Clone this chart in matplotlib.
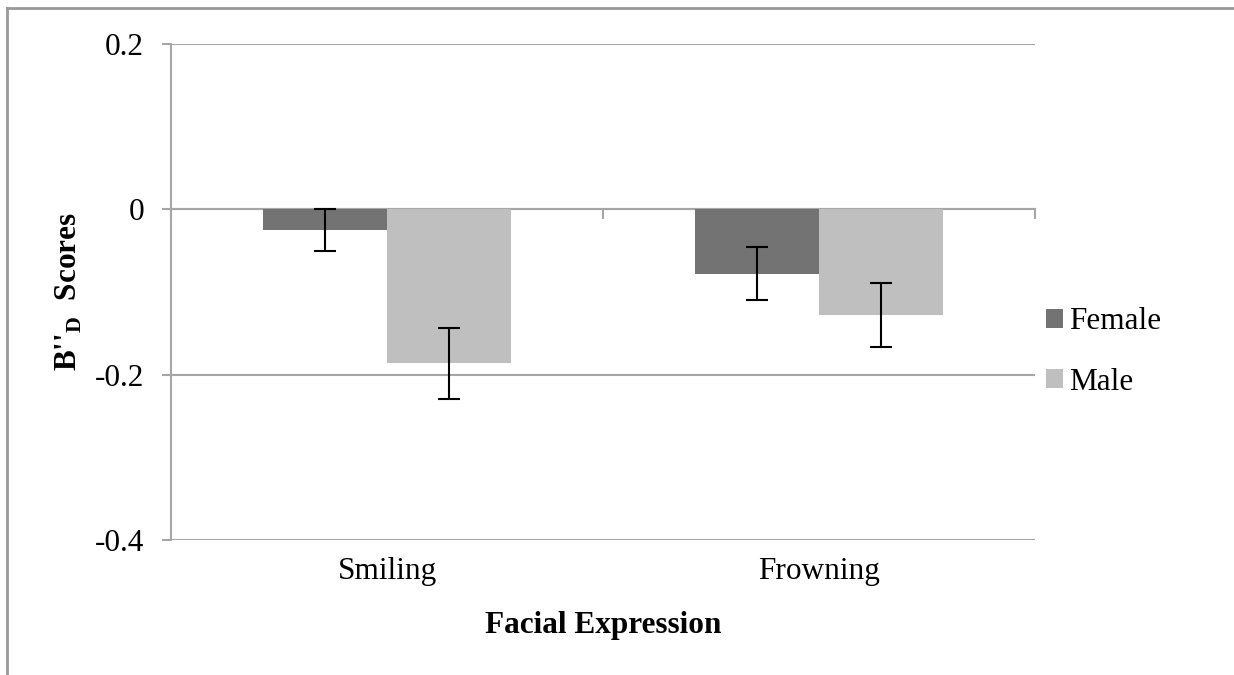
import matplotlib
matplotlib.use('Agg')
import matplotlib.pyplot as plt
from matplotlib.lines import Line2D
import numpy as np

# values
categories = ['Smiling', 'Frowning']
groups = ['Female', 'Male']
female_mean = [-0.025, -0.078]
female_err = [0.026, 0.032]
male_mean = [-0.186, -0.128]
male_err = [0.043, 0.039]
yticks = [-0.4, -0.2, 0, 0.2]
ytick_labels = ['-0.4', '-0.2', '0', '0.2']

plt.rcParams['font.family'] = ['Liberation Serif', 'DejaVu Serif']
plt.rcParams['mathtext.fontset'] = 'custom'
plt.rcParams['mathtext.rm'] = 'Liberation Serif'
plt.rcParams['mathtext.bf'] = 'Liberation Serif:bold'

grid_col = '#a6a6a6'
female_col = '#737373'
male_col = '#bfbfbf'
fs = 22.5

fig = plt.figure(figsize=(12.34, 6.75), dpi=100)
ax = fig.add_axes([171/1234, 1 - 540/675, (1035 - 171)/1234, (540 - 44)/675])

x = np.arange(len(categories))
w = 0.288
err_kw = dict(ecolor='black', elinewidth=1.5, capsize=8, capthick=1.5)
ax.bar(x - w/2, female_mean, w, yerr=female_err, color=female_col,
       label=groups[0], zorder=3, error_kw=err_kw)
ax.bar(x + w/2, male_mean, w, yerr=male_err, color=male_col,
       label=groups[1], zorder=3, error_kw=err_kw)

ax.set_xlim(-0.5, len(categories) - 0.5)
ax.set_ylim(-0.4, 0.2)
ax.set_yticks(yticks)
ax.set_yticklabels(ytick_labels)
ax.set_xticks(x)
ax.set_xticklabels(categories)

ax.grid(axis='y', color=grid_col, linewidth=1.5, zorder=0)
ax.set_axisbelow(True)
for s in ['top', 'right', 'bottom']:
    ax.spines[s].set_visible(False)
ax.spines['left'].set_color(grid_col)
ax.spines['left'].set_linewidth(1.5)
ax.tick_params(axis='y', length=6.5, width=1.5, color=grid_col, pad=13,
               labelsize=fs)
ax.tick_params(axis='x', length=0, pad=12, labelsize=fs)

# zero line acts as the category axis, with tick marks between categories
zero_pos = (0 - (-0.4)) / 0.6
sec = ax.secondary_xaxis(zero_pos)
sec.set_xticks(np.arange(-0.5, len(categories), 1.0))
sec.set_xticklabels([])
sec.tick_params(length=7, width=1.5, color=grid_col, direction='in')
for s in sec.spines.values():
    s.set_color(grid_col)
    s.set_linewidth(1.5)

ax.set_xlabel('Facial Expression', fontsize=fs, fontweight='bold', labelpad=18)
fig.text(69/1234, 1 - 292/675, "B''$_{\\mathbf{D}}$  Scores", rotation=90,
         fontsize=fs, fontweight='bold', ha='center', va='center')

ax.legend(loc='center left', bbox_to_anchor=(1018/1234, 1 - 352/675),
          bbox_transform=fig.transFigure, frameon=False, fontsize=fs,
          handlelength=0.55, handleheight=0.55, handletextpad=0.2,
          labelspacing=1.0)

# chart border (only top and left edges fall inside the picture)
fig.add_artist(Line2D([7/1234, 1], [1 - 8/675, 1 - 8/675], color='#999999',
                      linewidth=2, transform=fig.transFigure))
fig.add_artist(Line2D([7/1234, 7/1234], [0, 1 - 8/675], color='#999999',
                      linewidth=2, transform=fig.transFigure))

fig.savefig('out.png', dpi=100)
